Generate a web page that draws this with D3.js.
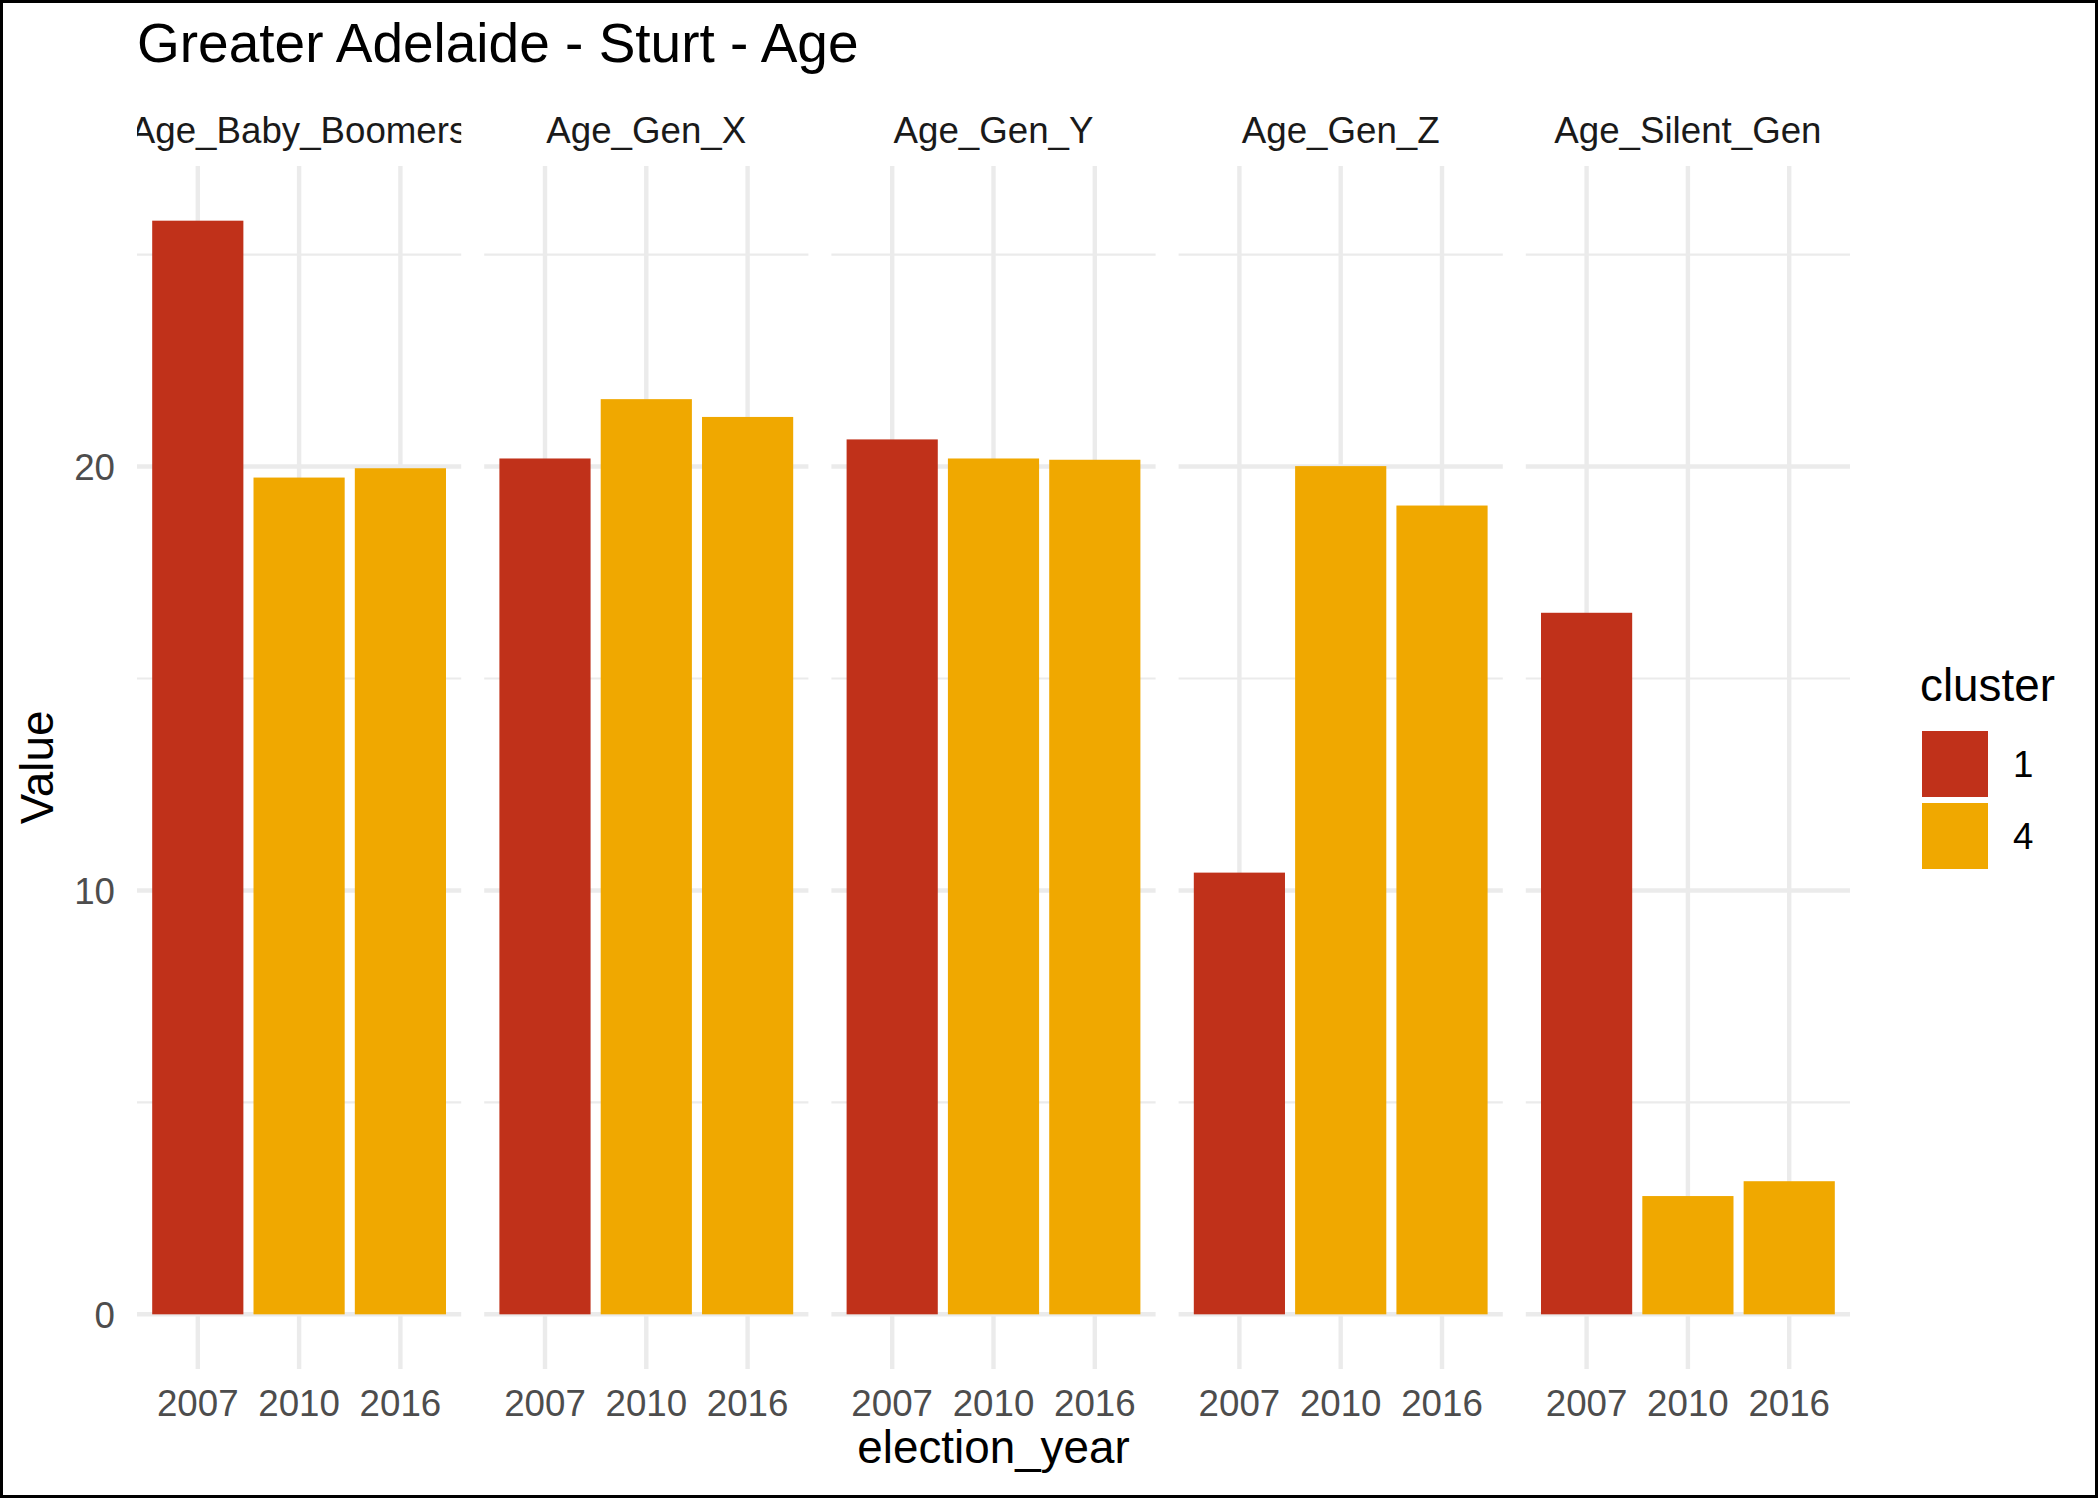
<!DOCTYPE html>
<html>
<head>
<meta charset="utf-8">
<script src="https://cdn.jsdelivr.net/npm/d3@7"></script>
<style>
  body { margin: 0; background: #fff; }
  text { font-family: "Liberation Sans", Arial, sans-serif; }
</style>
</head>
<body>
<div id="chart"></div>
<script>
// data
const facets = ["Age_Baby_Boomers", "Age_Gen_X", "Age_Gen_Y", "Age_Gen_Z", "Age_Silent_Gen"]
const years = ["2007", "2010", "2016"]
const yearCluster = ["1", "4", "4"]
const clusters = ["1", "4"]
const babyBoomers = [25.8, 19.74, 19.96]
const genX = [20.19, 21.59, 21.17]
const genY = [20.64, 20.19, 20.16]
const genZ = [10.42, 20.01, 19.08]
const silentGen = [16.55, 2.79, 3.14]
const yMajor = [0, 10, 20]
const yMinor = [5, 15, 25]

const series = [babyBoomers, genX, genY, genZ, silentGen]
const rows = []
facets.forEach((f, i) => {
  years.forEach((yr, j) => {
    rows.push({ facet: f, year: yr, cluster: yearCluster[j], value: series[i][j] })
  })
})

const W = 2100, H = 1499
const panelTop = 166, panelBottom = 1369
const svg = d3.select("#chart").append("svg")
  .attr("width", W)
  .attr("height", H)

svg.append("rect").attr("width", W).attr("height", H).attr("fill", "#fff")

const maxV = d3.max(rows, d => d.value)
const y = d3.scaleLinear()
  .domain([-0.05 * maxV, 1.05 * maxV])
  .range([panelBottom, panelTop])

const fx = d3.scaleBand()
  .domain(facets)
  .range([137, 1850])
  .paddingInner(1 - 324 / 347)

const x = d3.scaleBand()
  .domain(years)
  .range([0, fx.bandwidth()])
  .paddingInner(0.1)
  .paddingOuter(0.15)

const color = d3.scaleOrdinal()
  .domain(clusters)
  .range(["#C0311A", "#F0A800"])

const grid = "#EBEBEB"

const defs = svg.append("defs")

const panels = svg.selectAll("g.panel")
  .data(facets)
  .enter()
  .append("g")
  .attr("class", "panel")
  .attr("transform", d => `translate(${fx(d)},0)`)

// minor grid
panels.selectAll("line.minor")
  .data(yMinor)
  .enter()
  .append("line")
  .attr("x1", 0)
  .attr("x2", fx.bandwidth())
  .attr("y1", d => y(d))
  .attr("y2", d => y(d))
  .attr("stroke", grid)
  .attr("stroke-width", 2.2)

// major grid
panels.selectAll("line.major")
  .data(yMajor)
  .enter()
  .append("line")
  .attr("x1", 0)
  .attr("x2", fx.bandwidth())
  .attr("y1", d => y(d))
  .attr("y2", d => y(d))
  .attr("stroke", grid)
  .attr("stroke-width", 4.4)

panels.selectAll("line.vert")
  .data(years)
  .enter()
  .append("line")
  .attr("x1", d => x(d) + x.bandwidth() / 2)
  .attr("x2", d => x(d) + x.bandwidth() / 2)
  .attr("y1", panelTop)
  .attr("y2", panelBottom)
  .attr("stroke", grid)
  .attr("stroke-width", 4.4)

// bars
panels.selectAll("rect.bar")
  .data(f => rows.filter(r => r.facet === f))
  .enter()
  .append("rect")
  .attr("x", d => x(d.year))
  .attr("y", d => y(d.value))
  .attr("width", x.bandwidth())
  .attr("height", d => y(0) - y(d.value))
  .attr("fill", d => color(d.cluster))

// strip labels, clipped to the panel
facets.forEach((f, i) => {
  defs.append("clipPath")
    .attr("id", "clip" + i)
    .append("rect")
    .attr("x", fx(f))
    .attr("y", 90)
    .attr("width", fx.bandwidth())
    .attr("height", 70)
})

svg.selectAll("text.strip")
  .data(facets)
  .enter()
  .append("text")
  .attr("clip-path", (d, i) => `url(#clip${i})`)
  .attr("x", d => fx(d) + fx.bandwidth() / 2)
  .attr("y", 143)
  .attr("text-anchor", "middle")
  .attr("font-size", 36.7)
  .attr("fill", "#1A1A1A")
  .text(d => d)

// x tick labels
panels.selectAll("text.xtick")
  .data(years)
  .enter()
  .append("text")
  .attr("x", d => x(d) + x.bandwidth() / 2)
  .attr("y", 1416)
  .attr("text-anchor", "middle")
  .attr("font-size", 36.7)
  .attr("fill", "#4D4D4D")
  .text(d => d)

// y tick labels
svg.selectAll("text.ytick")
  .data(yMajor)
  .enter()
  .append("text")
  .attr("x", 115)
  .attr("y", d => y(d))
  .attr("dy", "0.36em")
  .attr("text-anchor", "end")
  .attr("font-size", 36.7)
  .attr("fill", "#4D4D4D")
  .text(d => d)

// titles
svg.append("text")
  .attr("x", 137)
  .attr("y", 62)
  .attr("font-size", 55)
  .attr("fill", "#000")
  .text("Greater Adelaide - Sturt - Age")

svg.append("text")
  .attr("x", (fx.range()[0] + fx.range()[1]) / 2)
  .attr("y", 1463)
  .attr("text-anchor", "middle")
  .attr("font-size", 45.8)
  .attr("fill", "#000")
  .text("election_year")

svg.append("text")
  .attr("transform", `translate(53,${(panelTop + panelBottom) / 2}) rotate(-90)`)
  .attr("text-anchor", "middle")
  .attr("font-size", 45.8)
  .attr("fill", "#000")
  .text("Value")

// legend
const legend = svg.append("g").attr("transform", "translate(1920,0)")
legend.append("text")
  .attr("x", 0)
  .attr("y", 701)
  .attr("font-size", 45.8)
  .attr("fill", "#000")
  .text("cluster")

legend.selectAll("rect")
  .data(clusters)
  .enter()
  .append("rect")
  .attr("x", 2)
  .attr("y", (d, i) => 731 + i * 72)
  .attr("width", 66)
  .attr("height", 66)
  .attr("fill", d => color(d))

legend.selectAll("text.lab")
  .data(clusters)
  .enter()
  .append("text")
  .attr("x", 93)
  .attr("y", (d, i) => 731 + i * 72 + 33)
  .attr("dy", "0.36em")
  .attr("font-size", 36.7)
  .attr("fill", "#000")
  .text(d => d)

// outer frame
svg.append("rect")
  .attr("x", 1.5)
  .attr("y", 1.5)
  .attr("width", W - 5)
  .attr("height", H - 4)
  .attr("fill", "none")
  .attr("stroke", "#000")
  .attr("stroke-width", 3)
</script>
</body>
</html>
